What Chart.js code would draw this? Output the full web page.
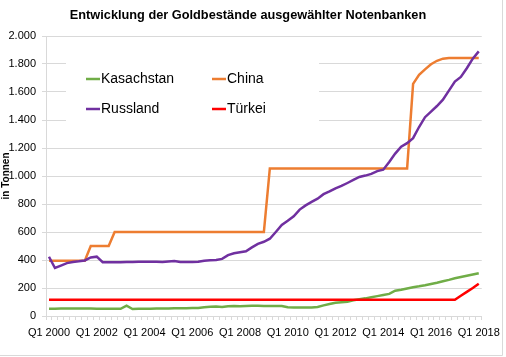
<!DOCTYPE html>
<html>
<head>
<meta charset="utf-8">
<script src="https://cdn.jsdelivr.net/npm/chart.js@4"></script>
<style>
html,body{margin:0;padding:0;background:#fff;}
#wrap{width:506px;height:357px;position:relative;}
canvas{display:block;}
</style>
</head>
<body>
<div id="wrap"><canvas id="c" width="506" height="357"></canvas></div>
<script>
const title = "Entwicklung der Goldbestände ausgewählter Notenbanken";
const yAxisTitle = "in Tonnen";
const years = [2000,2001,2002,2003,2004,2005,2006,2007,2008,2009,2010,2011,2012,2013,2014,2015,2016,2017,2018];
const quarters = ["Q1","Q2","Q3","Q4"];
const categories = [];
years.forEach(y => quarters.forEach(q => { if (y < 2018 || q === "Q1") categories.push(q + " " + y); }));
const shownTickLabels = ["Q1 2000","Q1 2002","Q1 2004","Q1 2006","Q1 2008","Q1 2010","Q1 2012","Q1 2014","Q1 2016","Q1 2018"];
const yTicks = [0,200,400,600,800,1000,1200,1400,1600,1800,2000];

const seriesNames = ["Kasachstan","China","Russland","Türkei"];
const seriesColors = ["#70AD47","#ED7D31","#7030A0","#FF0000"];

const kasachstan = [52,52,53,53,53,54,54,53,52,52,52,51,51,74,50,51,52,52,53,53,54,55,55,56,57,57,62,66,67,64,70,71,70,72,74,74,72,72,72,71,62,60,60,60,61,64,76,86,94,98,102,112,120,126,134,142,150,158,181,188,197,205,212,220,229,238,248,258,269,278,287,296,305];
const china = [395,395,395,395,395,395,395,500,500,500,500,600,600,600,600,600,600,600,600,600,600,600,600,600,600,600,600,600,600,600,600,600,600,600,600,600,600,1054,1054,1054,1054,1054,1054,1054,1054,1054,1054,1054,1054,1054,1054,1054,1054,1054,1054,1054,1054,1054,1054,1054,1054,1658,1722,1762,1798,1823,1838,1842,1842,1842,1842,1842,1842];
const russland = [423,343,360,378,386,391,397,418,424,384,384,384,384,385,386,387,387,388,387,386,390,393,386,385,385,387,395,398,400,408,435,448,455,462,490,515,530,552,600,650,680,712,760,790,815,838,870,890,912,929,950,972,993,1003,1015,1035,1045,1100,1160,1210,1235,1270,1350,1420,1460,1500,1545,1610,1675,1708,1770,1838,1890];
const tuerkei = [116,116,116,116,116,116,116,116,116,116,116,116,116,116,116,116,116,116,116,116,116,116,116,116,116,116,116,116,116,116,116,116,116,116,116,116,116,116,116,116,116,116,116,116,116,116,116,116,116,116,116,116,116,116,116,116,116,116,116,116,116,116,116,116,116,116,116,116,116,145,172,200,230];
const seriesData = [kasachstan, china, russland, tuerkei];

function fmtDE(v){ return String(v).replace(/\B(?=(\d{3})+(?!\d))/g, "."); }

const FONT = "'Liberation Sans', Arial, sans-serif";
const GRID = "#d9d9d9";

const legendPlugin = {
  id: 'customLegend',
  beforeDatasetsDraw(chart){
    const ctx = chart.ctx;
    ctx.save();
    ctx.fillStyle = "#fff";
    ctx.fillRect(66, 50, 253, 84);
    const items = [
      {i:0, x:86, y:79},
      {i:1, x:212, y:79},
      {i:2, x:86, y:109},
      {i:3, x:212, y:109}
    ];
    ctx.font = "14px " + FONT;
    ctx.textBaseline = "middle";
    ctx.textAlign = "left";
    items.forEach(it => {
      ctx.strokeStyle = seriesColors[it.i];
      ctx.lineWidth = 2.5;
      ctx.beginPath();
      ctx.moveTo(it.x, it.y);
      ctx.lineTo(it.x + 14, it.y);
      ctx.stroke();
      ctx.fillStyle = "#000";
      ctx.fillText(seriesNames[it.i], it.x + 15, it.y);
    });
    ctx.restore();
  },
  afterDraw(chart){
    const ctx = chart.ctx;
    ctx.save();
    ctx.font = "bold 12.75px " + FONT;
    ctx.fillStyle = "#000";
    ctx.textAlign = "center";
    ctx.textBaseline = "middle";
    ctx.fillText(title, 248, 15);
    ctx.strokeStyle = GRID;
    ctx.lineWidth = 1;
    ctx.beginPath();
    ctx.moveTo(502.5, 0);
    ctx.lineTo(502.5, 355.5);
    ctx.lineTo(0, 355.5);
    ctx.stroke();
    ctx.restore();
  }
};

new Chart(document.getElementById('c'), {
  type: 'line',
  data: {
    labels: categories,
    datasets: seriesData.map((d, i) => ({
      label: seriesNames[i],
      data: d,
      borderColor: seriesColors[i],
      backgroundColor: seriesColors[i],
      borderWidth: 2.5,
      pointRadius: 0,
      tension: 0,
      fill: false,
      order: 4 - i
    }))
  },
  options: {
    responsive: false,
    animation: false,
    layout: { padding: { left: 0, top: 36, right: 22, bottom: 0 } },
    plugins: {
      legend: { display: false },
      title: { display: false },
      tooltip: { enabled: false }
    },
    scales: {
      x: {
        type: 'category',
        offset: true,
        grid: { drawOnChartArea: false, drawTicks: true, tickLength: 4, color: GRID, offset: true },
        border: { color: GRID, width: 1 },
        ticks: {
          autoSkip: false,
          maxRotation: 0,
          minRotation: 0,
          padding: 6,
          color: "#000",
          font: { family: FONT, size: 11 },
          callback: function(value){ const l = this.getLabelForValue(value); return shownTickLabels.includes(l) ? l : ''; }
        },
        afterFit: s => { s.height = 41; }
      },
      y: {
        min: 0, max: 2000,
        afterBuildTicks: s => { s.ticks = yTicks.map(v => ({value: v})); },
        grid: { color: GRID, tickLength: 4, drawTicks: true },
        border: { color: GRID, width: 1 },
        ticks: {
          padding: 6,
          color: "#000",
          font: { family: FONT, size: 11 },
          callback: v => fmtDE(v)
        },
        title: {
          display: true,
          text: yAxisTitle,
          color: "#000",
          font: { family: FONT, size: 10, weight: 'bold' },
          padding: { top: 0, bottom: 0 }
        },
        afterFit: s => { s.width = 46; }
      }
    }
  },
  plugins: [legendPlugin]
});
</script>
</body>
</html>
